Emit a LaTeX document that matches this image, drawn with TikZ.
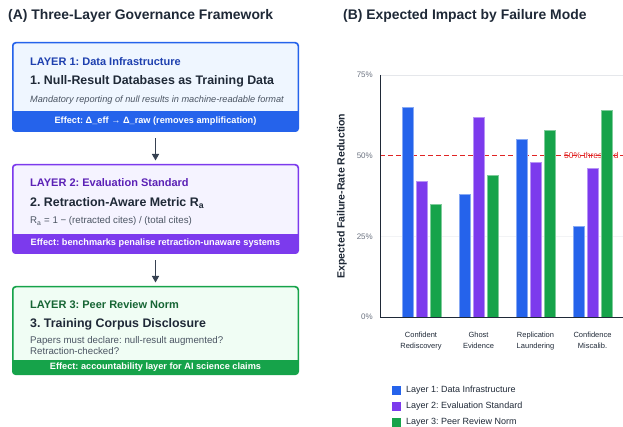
\documentclass[tikz,border=0pt]{standalone}
\usepackage{fontspec}
\setmainfont{Liberation Sans}
\usetikzlibrary{arrows.meta}
\frenchspacing

\definecolor{lAmain}{HTML}{2563EB}
\definecolor{lAbg}{HTML}{EFF6FF}
\definecolor{lAdark}{HTML}{1E40AF}
\definecolor{lBmain}{HTML}{7C3AED}
\definecolor{lBbg}{HTML}{F5F3FF}
\definecolor{lBdark}{HTML}{5B21B6}
\definecolor{lCmain}{HTML}{16A34A}
\definecolor{lCbg}{HTML}{F0FDF4}
\definecolor{lCdark}{HTML}{166534}
\definecolor{ink}{HTML}{1F2937}
\definecolor{subink}{HTML}{4B5563}
\definecolor{arrowink}{HTML}{374151}
\definecolor{axisgray}{HTML}{6B7280}
\definecolor{gridgray}{HTML}{E5E7EB}
\definecolor{threshred}{HTML}{E02424}

\begin{document}
\begin{tikzpicture}[x=1pt, y=-1pt,
  layer/.style={draw=#1main, fill=#1bg, line width=1pt, rounded corners=3pt, minimum width=285pt, minimum height=88pt, inner sep=0pt},
  heading/.style={anchor=west, inner sep=0pt, font=\bfseries\fontsize{11}{13}\selectfont},
  boxtitle/.style={anchor=west, inner sep=0pt, text=ink, font=\bfseries\fontsize{12.4}{14}\selectfont},
  desc/.style={anchor=west, inner sep=0pt, text=subink, font=\fontsize{9.7}{11}\selectfont, align=left},
  effect/.style={text=white, inner sep=0pt, font=\bfseries\fontsize{9.2}{11}\selectfont},
  flow/.style={draw=arrowink, line width=1.3pt, -{Triangle[width=7pt,length=6.5pt]}, shorten <=7pt, shorten >=4pt},
  paneltitle/.style={anchor=west, inner sep=0pt, text=ink, font=\bfseries\fontsize{13.9}{16}\selectfont},
  tick/.style={anchor=east, inner sep=0pt, text=axisgray, font=\fontsize{8}{10}\selectfont},
  cat/.style={anchor=north, text=ink, inner sep=0pt, align=center, font=\fontsize{7.5}{11}\selectfont},
  legtext/.style={anchor=west, inner sep=0pt, text=ink, font=\fontsize{9}{10}\selectfont},
  bar/.style={fill=#1, draw=#1!55!white, line width=0.6pt},
  threshline/.style={draw=threshred, line width=1.3pt, dash pattern=on 4.5pt off 3.5pt}]

\useasboundingbox (0,0) rectangle (623,427);

% (A) governance layers
\node[paneltitle] (titleA) at (8,16) {(A) Three-Layer Governance Framework};

\node[layer=lA] (l1) at (155.5,87) {};
\begin{scope}
  \clip[rounded corners=3pt] (l1.south west) rectangle (l1.north east);
  \fill[lAmain] (l1.south west) rectangle ([yshift=20pt]l1.south east);
\end{scope}
\draw[lAmain, line width=1pt, rounded corners=3pt] (l1.south west) rectangle (l1.north east);
\node[heading, text=lAdark] (l1head) at (30,62) {LAYER 1: Data Infrastructure};
\node[boxtitle] (l1title) at (30,81) {1. Null-Result Databases as Training Data};
\node[desc, font=\itshape\fontsize{9.2}{11}\selectfont] (l1desc) at (30,100) {Mandatory reporting of null results in machine-readable format};
\node[effect] (l1eff) at (155.5,121) {Effect: Δ\_eff → Δ\_raw (removes amplification)};

\node[layer=lB] (l2) at (155.5,209) {};
\begin{scope}
  \clip[rounded corners=3pt] (l2.south west) rectangle (l2.north east);
  \fill[lBmain] (l2.south west) rectangle ([yshift=19pt]l2.south east);
\end{scope}
\draw[lBmain, line width=1pt, rounded corners=3pt] (l2.south west) rectangle (l2.north east);
\node[heading, text=lBdark] (l2head) at (30,183) {LAYER 2: Evaluation Standard};
\node[boxtitle] (l2title) at (30,203) {2. Retraction-Aware Metric R\textsubscript{a}};
\node[desc] (l2desc) at (30,221) {R\textsubscript{a} = 1 − (retracted cites) / (total cites)};
\node[effect] (l2eff) at (155.5,243) {Effect: benchmarks penalise retraction-unaware systems};

\node[layer=lC, minimum height=87pt] (l3) at (155.5,330.5) {};
\begin{scope}
  \clip[rounded corners=3pt] (l3.south west) rectangle (l3.north east);
  \fill[lCmain] (l3.south west) rectangle ([yshift=15pt]l3.south east);
\end{scope}
\draw[lCmain, line width=1pt, rounded corners=3pt] (l3.south west) rectangle (l3.north east);
\node[heading, text=lCdark] (l3head) at (30,305) {LAYER 3: Peer Review Norm};
\node[boxtitle] (l3title) at (30,324) {3. Training Corpus Disclosure};
\node[desc] (l3desc) at (30,345.5) {Papers must declare: null-result augmented?\\Retraction-checked?};
\node[effect] (l3eff) at (155.5,367) {Effect: accountability layer for AI science claims};

\draw[flow] (l1) -- (l2);
\draw[flow] (l2) -- (l3);

% (B) bar chart, 0% at y=317, 3.227pt per percent
\node[paneltitle] (titleB) at (343,16) {(B) Expected Impact by Failure Mode};

\draw[gridgray, line width=0.8pt] (380,75) -- (623,75);
\draw[gridgray!50, line width=0.8pt] (380,236.3) -- (623,236.3);
\node[tick] (t0) at (373,317) {0\%};
\node[tick] (t25) at (373,236.3) {25\%};
\node[tick] (t50) at (373,155.6) {50\%};
\node[tick] (t75) at (373,75) {75\%};

\path[threshline] (380,155.6) -- (623,155.6);
\node[anchor=west, inner sep=0pt, text=threshred, font=\fontsize{8.5}{10}\selectfont] (thresh) at (564,155.6) {50\% threshold};

\begin{scope}[shift={(0,317)}, y=3.227pt]
\fill[bar=lAmain] (402,0) rectangle (413,65);
\fill[bar=lBmain] (416,0) rectangle (427,42);
\fill[bar=lCmain] (430,0) rectangle (441,35);
\fill[bar=lAmain] (459,0) rectangle (470,38);
\fill[bar=lBmain] (473,0) rectangle (484,62);
\fill[bar=lCmain] (487,0) rectangle (498,44);
\fill[bar=lAmain] (516,0) rectangle (527,55);
\fill[bar=lBmain] (530,0) rectangle (541,48);
\fill[bar=lCmain] (544,0) rectangle (555,58);
\fill[bar=lAmain] (573,0) rectangle (584,28);
\fill[bar=lBmain] (587,0) rectangle (598,46);
\fill[bar=lCmain] (601,0) rectangle (612,64);
\end{scope}

\draw[ink, line width=0.9pt] (380,75) -- (380,317) -- (623,317);
\node[rotate=90, text=ink, font=\bfseries\fontsize{10.5}{12}\selectfont] (ylab) at (342,196) {Expected Failure-Rate Reduction};

\node[cat] (c1) at (421,331.5) {Confident\\Rediscovery};
\node[cat] (c2) at (478.5,331.5) {Ghost\\Evidence};
\node[cat] (c3) at (535.5,331.5) {Replication\\Laundering};
\node[cat] (c4) at (592.5,331.5) {Confidence\\Miscalib.};

\fill[lAmain] (392,386) rectangle (401,395);
\fill[lBmain] (392,401.5) rectangle (401,410.5);
\fill[lCmain] (392,417.5) rectangle (401,426.5);
\node[legtext] (leg1) at (406,390.5) {Layer 1: Data Infrastructure};
\node[legtext] (leg2) at (406,406) {Layer 2: Evaluation Standard};
\node[legtext] (leg3) at (406,422) {Layer 3: Peer Review Norm};
\end{tikzpicture}
\end{document}
